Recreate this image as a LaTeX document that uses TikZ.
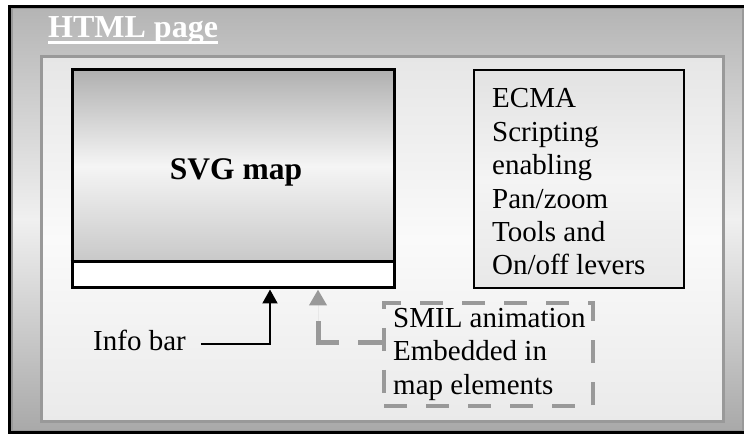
\documentclass[tikz,border=0pt]{standalone}
\usepackage{fontspec}
\setmainfont{Liberation Serif}
\usetikzlibrary{arrows.meta}
\definecolor{linegray}{HTML}{999999}
\definecolor{bandtop}{HTML}{B4B4B4}
\definecolor{bandmid}{HTML}{F0F0F0}
\definecolor{bandbot}{HTML}{A8A8A8}
\definecolor{paneltop}{HTML}{E6E6E6}
\definecolor{panelmid}{HTML}{FAFAFA}
\definecolor{panelbot}{HTML}{EAEAEA}
\definecolor{maptop}{HTML}{B0B0B0}
\definecolor{mapmid}{HTML}{F5F5F5}
\definecolor{mapbot}{HTML}{C8C8C8}
\definecolor{ecmatop}{HTML}{E2E2E2}
\definecolor{ecmamid}{HTML}{F4F4F4}
\definecolor{ecmabot}{HTML}{E8E8E8}
\begin{document}
\begin{tikzpicture}[x=1pt,y=-1pt,
  box/.style={rectangle, inner sep=0pt},
  txt/.style={inner sep=0pt, anchor=base west, font=\fontsize{29}{33.4}\selectfont},
  blackarrow/.style={line width=2pt, -{Triangle[width=15pt,length=14pt]}},
  grayline/.style={line width=5pt, draw=linegray, dash pattern=on 24pt off 19pt},
  grayarrow/.style={grayline, -{Triangle[width=17pt,length=16pt]}, fill=linegray}]
\useasboundingbox (0,0) rectangle (744,435);
% outer frame
\node[box, minimum width=735.5pt, minimum height=426pt, line width=3pt, draw=black,
  top color=bandtop, bottom color=bandbot, middle color=bandmid] (frame) at (377.25,219.5) {};
\draw[linegray, line width=1.5pt] (11.75,8.75) rectangle (742.75,430.25);
% title
\node[inner sep=0pt, anchor=base west, text=white, font=\bfseries\fontsize{32}{36}\selectfont] (html) at (48,37.7) {HTML page};
\draw[white, line width=3.5pt] ([yshift=-4.8pt]html.base west) -- ([yshift=-4.8pt]html.base east);
% inner panel
\node[box, minimum width=682pt, minimum height=365pt, line width=3pt, draw=linegray,
  top color=paneltop, bottom color=panelbot, middle color=panelmid] (panel) at (382.5,239) {};
% SVG map box
\shade[top color=maptop, bottom color=mapbot, middle color=mapmid] (72,70) rectangle (394,262);
\fill[white] (72,262) rectangle (394,288);
\node[box, minimum width=322pt, minimum height=218pt, line width=3pt, draw=black] (svg) at (233,179) {};
\draw[line width=3pt] ([yshift=27.5pt]svg.south west) -- ([yshift=27.5pt]svg.south east);
\node[inner sep=0pt, anchor=base, font=\bfseries\fontsize{31.5}{36}\selectfont] (svgt) at (236,180) {SVG map};
% ECMA box
\node[box, minimum width=210pt, minimum height=218pt, line width=1.2pt, draw=black,
  top color=ecmatop, bottom color=ecmabot, middle color=ecmamid] (ecma) at (579,179) {};
\node[txt] (e1) at (492,107.7) {ECMA};
\node[txt] (e2) at (492,141.2) {Scripting};
\node[txt] (e3) at (492,174.6) {enabling};
\node[txt] (e4) at (492,208.1) {Pan/zoom};
\node[txt] (e5) at (492,241.5) {Tools and};
\node[txt] (e6) at (492,275) {On/off levers};
% SMIL box
\node[box, minimum width=209pt, minimum height=103pt, line width=4.5pt, draw=linegray,
  dash pattern=on 23pt off 19pt] (smil) at (488.5,354.5) {};
\node[txt] (s1) at (393,327.3) {SMIL animation};
\node[txt] (s2) at (393,360.7) {Embedded in};
\node[txt] (s3) at (393,394) {map elements};
% Info bar
\node[txt] (info) at (93,351) {Info bar};
\coordinate (ibs) at ([shift={(15,-7)}]info.base east);
\coordinate (ibt) at ([xshift=37pt]svg.south);
\draw[blackarrow] (ibs) -| (ibt);
% gray connector
\coordinate (gs) at ([yshift=11.5pt]smil.west);
\coordinate (gt) at ([xshift=85pt]svg.south);
\coordinate (gc) at (gs -| gt);
\draw[grayline] (gs) -- (gc);
\draw[grayarrow] ([yshift=-2.5pt]gc) -- (gt);
\end{tikzpicture}
\end{document}
